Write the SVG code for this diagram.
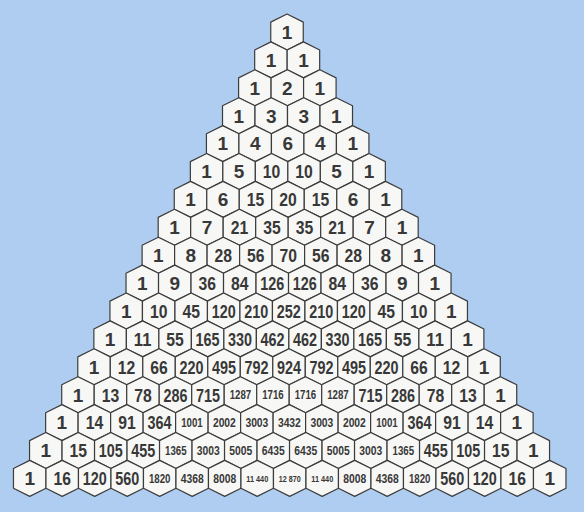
<svg xmlns="http://www.w3.org/2000/svg" xmlns:xlink="http://www.w3.org/1999/xlink" width="584" height="512" viewBox="0 0 584 512">
<style>
.hex{fill:#f7f7f5;stroke:#3c3c3c;stroke-width:1.2;stroke-linejoin:round}
text{font-family:"Liberation Sans",Arial,sans-serif;font-weight:bold;fill:#383838;text-anchor:middle}
.a{font-size:19px}
.s{font-size:12.5px}
.m{font-size:13.5px}
.x{font-size:9px}
</style>
<defs>
<polygon id="hex" class="hex" points="0,-18 16.25,-9.9 16.25,9.9 0,18 -16.25,9.9 -16.25,-9.9"/>
</defs>
<rect width="584" height="512" fill="#afcdf0"/>
<g id="connectors"></g>
<g id="row0" transform="translate(287,32)">
<g id="n0-0"><use href="#hex"/><text class="a" y="6.8">1</text></g>
</g>
<g id="row1" transform="translate(270.92,59.9)">
<g id="n1-0"><use href="#hex"/><text class="a" y="6.8">1</text></g>
<g id="n1-1" transform="translate(32.5,0)"><use href="#hex"/><text class="a" y="6.8">1</text></g>
</g>
<g id="row2" transform="translate(254.84,87.8)">
<g id="n2-0"><use href="#hex"/><text class="a" y="6.8">1</text></g>
<g id="n2-1" transform="translate(32.5,0)"><use href="#hex"/><text class="a" y="6.8">2</text></g>
<g id="n2-2" transform="translate(65,0)"><use href="#hex"/><text class="a" y="6.8">1</text></g>
</g>
<g id="row3" transform="translate(238.76,115.7)">
<g id="n3-0"><use href="#hex"/><text class="a" y="6.8">1</text></g>
<g id="n3-1" transform="translate(32.5,0)"><use href="#hex"/><text class="a" y="6.8">3</text></g>
<g id="n3-2" transform="translate(65,0)"><use href="#hex"/><text class="a" y="6.8">3</text></g>
<g id="n3-3" transform="translate(97.5,0)"><use href="#hex"/><text class="a" y="6.8">1</text></g>
</g>
<g id="row4" transform="translate(222.68,143.6)">
<g id="n4-0"><use href="#hex"/><text class="a" y="6.8">1</text></g>
<g id="n4-1" transform="translate(32.5,0)"><use href="#hex"/><text class="a" y="6.8">4</text></g>
<g id="n4-2" transform="translate(65,0)"><use href="#hex"/><text class="a" y="6.8">6</text></g>
<g id="n4-3" transform="translate(97.5,0)"><use href="#hex"/><text class="a" y="6.8">4</text></g>
<g id="n4-4" transform="translate(130,0)"><use href="#hex"/><text class="a" y="6.8">1</text></g>
</g>
<g id="row5" transform="translate(206.6,171.5)">
<g id="n5-0"><use href="#hex"/><text class="a" y="6.8">1</text></g>
<g id="n5-1" transform="translate(32.5,0)"><use href="#hex"/><text class="a" y="6.8">5</text></g>
<g id="n5-2" transform="translate(65,0)"><use href="#hex"/><text class="a" y="6.8" textLength="17.5" lengthAdjust="spacingAndGlyphs">10</text></g>
<g id="n5-3" transform="translate(97.5,0)"><use href="#hex"/><text class="a" y="6.8" textLength="17.5" lengthAdjust="spacingAndGlyphs">10</text></g>
<g id="n5-4" transform="translate(130,0)"><use href="#hex"/><text class="a" y="6.8">5</text></g>
<g id="n5-5" transform="translate(162.5,0)"><use href="#hex"/><text class="a" y="6.8">1</text></g>
</g>
<g id="row6" transform="translate(190.52,199.4)">
<g id="n6-0"><use href="#hex"/><text class="a" y="6.8">1</text></g>
<g id="n6-1" transform="translate(32.5,0)"><use href="#hex"/><text class="a" y="6.8">6</text></g>
<g id="n6-2" transform="translate(65,0)"><use href="#hex"/><text class="a" y="6.8" textLength="17.5" lengthAdjust="spacingAndGlyphs">15</text></g>
<g id="n6-3" transform="translate(97.5,0)"><use href="#hex"/><text class="a" y="6.8" textLength="17.5" lengthAdjust="spacingAndGlyphs">20</text></g>
<g id="n6-4" transform="translate(130,0)"><use href="#hex"/><text class="a" y="6.8" textLength="17.5" lengthAdjust="spacingAndGlyphs">15</text></g>
<g id="n6-5" transform="translate(162.5,0)"><use href="#hex"/><text class="a" y="6.8">6</text></g>
<g id="n6-6" transform="translate(195,0)"><use href="#hex"/><text class="a" y="6.8">1</text></g>
</g>
<g id="row7" transform="translate(174.44,227.3)">
<g id="n7-0"><use href="#hex"/><text class="a" y="6.8">1</text></g>
<g id="n7-1" transform="translate(32.5,0)"><use href="#hex"/><text class="a" y="6.8">7</text></g>
<g id="n7-2" transform="translate(65,0)"><use href="#hex"/><text class="a" y="6.8" textLength="17.5" lengthAdjust="spacingAndGlyphs">21</text></g>
<g id="n7-3" transform="translate(97.5,0)"><use href="#hex"/><text class="a" y="6.8" textLength="17.5" lengthAdjust="spacingAndGlyphs">35</text></g>
<g id="n7-4" transform="translate(130,0)"><use href="#hex"/><text class="a" y="6.8" textLength="17.5" lengthAdjust="spacingAndGlyphs">35</text></g>
<g id="n7-5" transform="translate(162.5,0)"><use href="#hex"/><text class="a" y="6.8" textLength="17.5" lengthAdjust="spacingAndGlyphs">21</text></g>
<g id="n7-6" transform="translate(195,0)"><use href="#hex"/><text class="a" y="6.8">7</text></g>
<g id="n7-7" transform="translate(227.5,0)"><use href="#hex"/><text class="a" y="6.8">1</text></g>
</g>
<g id="row8" transform="translate(158.36,255.2)">
<g id="n8-0"><use href="#hex"/><text class="a" y="6.8">1</text></g>
<g id="n8-1" transform="translate(32.5,0)"><use href="#hex"/><text class="a" y="6.8">8</text></g>
<g id="n8-2" transform="translate(65,0)"><use href="#hex"/><text class="a" y="6.8" textLength="17.5" lengthAdjust="spacingAndGlyphs">28</text></g>
<g id="n8-3" transform="translate(97.5,0)"><use href="#hex"/><text class="a" y="6.8" textLength="17.5" lengthAdjust="spacingAndGlyphs">56</text></g>
<g id="n8-4" transform="translate(130,0)"><use href="#hex"/><text class="a" y="6.8" textLength="17.5" lengthAdjust="spacingAndGlyphs">70</text></g>
<g id="n8-5" transform="translate(162.5,0)"><use href="#hex"/><text class="a" y="6.8" textLength="17.5" lengthAdjust="spacingAndGlyphs">56</text></g>
<g id="n8-6" transform="translate(195,0)"><use href="#hex"/><text class="a" y="6.8" textLength="17.5" lengthAdjust="spacingAndGlyphs">28</text></g>
<g id="n8-7" transform="translate(227.5,0)"><use href="#hex"/><text class="a" y="6.8">8</text></g>
<g id="n8-8" transform="translate(260,0)"><use href="#hex"/><text class="a" y="6.8">1</text></g>
</g>
<g id="row9" transform="translate(142.28,283.1)">
<g id="n9-0"><use href="#hex"/><text class="a" y="6.8">1</text></g>
<g id="n9-1" transform="translate(32.5,0)"><use href="#hex"/><text class="a" y="6.8">9</text></g>
<g id="n9-2" transform="translate(65,0)"><use href="#hex"/><text class="a" y="6.8" textLength="17.5" lengthAdjust="spacingAndGlyphs">36</text></g>
<g id="n9-3" transform="translate(97.5,0)"><use href="#hex"/><text class="a" y="6.8" textLength="17.5" lengthAdjust="spacingAndGlyphs">84</text></g>
<g id="n9-4" transform="translate(130,0)"><use href="#hex"/><text class="a" y="6.8" textLength="24" lengthAdjust="spacingAndGlyphs">126</text></g>
<g id="n9-5" transform="translate(162.5,0)"><use href="#hex"/><text class="a" y="6.8" textLength="24" lengthAdjust="spacingAndGlyphs">126</text></g>
<g id="n9-6" transform="translate(195,0)"><use href="#hex"/><text class="a" y="6.8" textLength="17.5" lengthAdjust="spacingAndGlyphs">84</text></g>
<g id="n9-7" transform="translate(227.5,0)"><use href="#hex"/><text class="a" y="6.8" textLength="17.5" lengthAdjust="spacingAndGlyphs">36</text></g>
<g id="n9-8" transform="translate(260,0)"><use href="#hex"/><text class="a" y="6.8">9</text></g>
<g id="n9-9" transform="translate(292.5,0)"><use href="#hex"/><text class="a" y="6.8">1</text></g>
</g>
<g id="row10" transform="translate(126.2,311)">
<g id="n10-0"><use href="#hex"/><text class="a" y="6.8">1</text></g>
<g id="n10-1" transform="translate(32.5,0)"><use href="#hex"/><text class="a" y="6.8" textLength="17.5" lengthAdjust="spacingAndGlyphs">10</text></g>
<g id="n10-2" transform="translate(65,0)"><use href="#hex"/><text class="a" y="6.8" textLength="17.5" lengthAdjust="spacingAndGlyphs">45</text></g>
<g id="n10-3" transform="translate(97.5,0)"><use href="#hex"/><text class="a" y="6.8" textLength="24" lengthAdjust="spacingAndGlyphs">120</text></g>
<g id="n10-4" transform="translate(130,0)"><use href="#hex"/><text class="a" y="6.8" textLength="24" lengthAdjust="spacingAndGlyphs">210</text></g>
<g id="n10-5" transform="translate(162.5,0)"><use href="#hex"/><text class="a" y="6.8" textLength="24" lengthAdjust="spacingAndGlyphs">252</text></g>
<g id="n10-6" transform="translate(195,0)"><use href="#hex"/><text class="a" y="6.8" textLength="24" lengthAdjust="spacingAndGlyphs">210</text></g>
<g id="n10-7" transform="translate(227.5,0)"><use href="#hex"/><text class="a" y="6.8" textLength="24" lengthAdjust="spacingAndGlyphs">120</text></g>
<g id="n10-8" transform="translate(260,0)"><use href="#hex"/><text class="a" y="6.8" textLength="17.5" lengthAdjust="spacingAndGlyphs">45</text></g>
<g id="n10-9" transform="translate(292.5,0)"><use href="#hex"/><text class="a" y="6.8" textLength="17.5" lengthAdjust="spacingAndGlyphs">10</text></g>
<g id="n10-10" transform="translate(325,0)"><use href="#hex"/><text class="a" y="6.8">1</text></g>
</g>
<g id="row11" transform="translate(110.12,338.9)">
<g id="n11-0"><use href="#hex"/><text class="a" y="6.8">1</text></g>
<g id="n11-1" transform="translate(32.5,0)"><use href="#hex"/><text class="a" y="6.8" textLength="17.5" lengthAdjust="spacingAndGlyphs">11</text></g>
<g id="n11-2" transform="translate(65,0)"><use href="#hex"/><text class="a" y="6.8" textLength="17.5" lengthAdjust="spacingAndGlyphs">55</text></g>
<g id="n11-3" transform="translate(97.5,0)"><use href="#hex"/><text class="a" y="6.8" textLength="24" lengthAdjust="spacingAndGlyphs">165</text></g>
<g id="n11-4" transform="translate(130,0)"><use href="#hex"/><text class="a" y="6.8" textLength="24" lengthAdjust="spacingAndGlyphs">330</text></g>
<g id="n11-5" transform="translate(162.5,0)"><use href="#hex"/><text class="a" y="6.8" textLength="24" lengthAdjust="spacingAndGlyphs">462</text></g>
<g id="n11-6" transform="translate(195,0)"><use href="#hex"/><text class="a" y="6.8" textLength="24" lengthAdjust="spacingAndGlyphs">462</text></g>
<g id="n11-7" transform="translate(227.5,0)"><use href="#hex"/><text class="a" y="6.8" textLength="24" lengthAdjust="spacingAndGlyphs">330</text></g>
<g id="n11-8" transform="translate(260,0)"><use href="#hex"/><text class="a" y="6.8" textLength="24" lengthAdjust="spacingAndGlyphs">165</text></g>
<g id="n11-9" transform="translate(292.5,0)"><use href="#hex"/><text class="a" y="6.8" textLength="17.5" lengthAdjust="spacingAndGlyphs">55</text></g>
<g id="n11-10" transform="translate(325,0)"><use href="#hex"/><text class="a" y="6.8" textLength="17.5" lengthAdjust="spacingAndGlyphs">11</text></g>
<g id="n11-11" transform="translate(357.5,0)"><use href="#hex"/><text class="a" y="6.8">1</text></g>
</g>
<g id="row12" transform="translate(94.04,366.8)">
<g id="n12-0"><use href="#hex"/><text class="a" y="6.8">1</text></g>
<g id="n12-1" transform="translate(32.5,0)"><use href="#hex"/><text class="a" y="6.8" textLength="17.5" lengthAdjust="spacingAndGlyphs">12</text></g>
<g id="n12-2" transform="translate(65,0)"><use href="#hex"/><text class="a" y="6.8" textLength="17.5" lengthAdjust="spacingAndGlyphs">66</text></g>
<g id="n12-3" transform="translate(97.5,0)"><use href="#hex"/><text class="a" y="6.8" textLength="24" lengthAdjust="spacingAndGlyphs">220</text></g>
<g id="n12-4" transform="translate(130,0)"><use href="#hex"/><text class="a" y="6.8" textLength="24" lengthAdjust="spacingAndGlyphs">495</text></g>
<g id="n12-5" transform="translate(162.5,0)"><use href="#hex"/><text class="a" y="6.8" textLength="24" lengthAdjust="spacingAndGlyphs">792</text></g>
<g id="n12-6" transform="translate(195,0)"><use href="#hex"/><text class="a" y="6.8" textLength="24" lengthAdjust="spacingAndGlyphs">924</text></g>
<g id="n12-7" transform="translate(227.5,0)"><use href="#hex"/><text class="a" y="6.8" textLength="24" lengthAdjust="spacingAndGlyphs">792</text></g>
<g id="n12-8" transform="translate(260,0)"><use href="#hex"/><text class="a" y="6.8" textLength="24" lengthAdjust="spacingAndGlyphs">495</text></g>
<g id="n12-9" transform="translate(292.5,0)"><use href="#hex"/><text class="a" y="6.8" textLength="24" lengthAdjust="spacingAndGlyphs">220</text></g>
<g id="n12-10" transform="translate(325,0)"><use href="#hex"/><text class="a" y="6.8" textLength="17.5" lengthAdjust="spacingAndGlyphs">66</text></g>
<g id="n12-11" transform="translate(357.5,0)"><use href="#hex"/><text class="a" y="6.8" textLength="17.5" lengthAdjust="spacingAndGlyphs">12</text></g>
<g id="n12-12" transform="translate(390,0)"><use href="#hex"/><text class="a" y="6.8">1</text></g>
</g>
<g id="row13" transform="translate(77.96,394.7)">
<g id="n13-0"><use href="#hex"/><text class="a" y="6.8">1</text></g>
<g id="n13-1" transform="translate(32.5,0)"><use href="#hex"/><text class="a" y="6.8" textLength="17.5" lengthAdjust="spacingAndGlyphs">13</text></g>
<g id="n13-2" transform="translate(65,0)"><use href="#hex"/><text class="a" y="6.8" textLength="17.5" lengthAdjust="spacingAndGlyphs">78</text></g>
<g id="n13-3" transform="translate(97.5,0)"><use href="#hex"/><text class="a" y="6.8" textLength="24" lengthAdjust="spacingAndGlyphs">286</text></g>
<g id="n13-4" transform="translate(130,0)"><use href="#hex"/><text class="a" y="6.8" textLength="24" lengthAdjust="spacingAndGlyphs">715</text></g>
<g id="n13-5" transform="translate(162.5,0)"><use href="#hex"/><text class="s" y="4.5" textLength="21.5" lengthAdjust="spacingAndGlyphs">1287</text></g>
<g id="n13-6" transform="translate(195,0)"><use href="#hex"/><text class="s" y="4.5" textLength="21.5" lengthAdjust="spacingAndGlyphs">1716</text></g>
<g id="n13-7" transform="translate(227.5,0)"><use href="#hex"/><text class="s" y="4.5" textLength="21.5" lengthAdjust="spacingAndGlyphs">1716</text></g>
<g id="n13-8" transform="translate(260,0)"><use href="#hex"/><text class="s" y="4.5" textLength="21.5" lengthAdjust="spacingAndGlyphs">1287</text></g>
<g id="n13-9" transform="translate(292.5,0)"><use href="#hex"/><text class="a" y="6.8" textLength="24" lengthAdjust="spacingAndGlyphs">715</text></g>
<g id="n13-10" transform="translate(325,0)"><use href="#hex"/><text class="a" y="6.8" textLength="24" lengthAdjust="spacingAndGlyphs">286</text></g>
<g id="n13-11" transform="translate(357.5,0)"><use href="#hex"/><text class="a" y="6.8" textLength="17.5" lengthAdjust="spacingAndGlyphs">78</text></g>
<g id="n13-12" transform="translate(390,0)"><use href="#hex"/><text class="a" y="6.8" textLength="17.5" lengthAdjust="spacingAndGlyphs">13</text></g>
<g id="n13-13" transform="translate(422.5,0)"><use href="#hex"/><text class="a" y="6.8">1</text></g>
</g>
<g id="row14" transform="translate(61.88,422.6)">
<g id="n14-0"><use href="#hex"/><text class="a" y="6.8">1</text></g>
<g id="n14-1" transform="translate(32.5,0)"><use href="#hex"/><text class="a" y="6.8" textLength="17.5" lengthAdjust="spacingAndGlyphs">14</text></g>
<g id="n14-2" transform="translate(65,0)"><use href="#hex"/><text class="a" y="6.8" textLength="17.5" lengthAdjust="spacingAndGlyphs">91</text></g>
<g id="n14-3" transform="translate(97.5,0)"><use href="#hex"/><text class="a" y="6.8" textLength="24" lengthAdjust="spacingAndGlyphs">364</text></g>
<g id="n14-4" transform="translate(130,0)"><use href="#hex"/><text class="s" y="4.5" textLength="21.5" lengthAdjust="spacingAndGlyphs">1001</text></g>
<g id="n14-5" transform="translate(162.5,0)"><use href="#hex"/><text class="m" y="4.8" textLength="23" lengthAdjust="spacingAndGlyphs">2002</text></g>
<g id="n14-6" transform="translate(195,0)"><use href="#hex"/><text class="m" y="4.8" textLength="23" lengthAdjust="spacingAndGlyphs">3003</text></g>
<g id="n14-7" transform="translate(227.5,0)"><use href="#hex"/><text class="m" y="4.8" textLength="23" lengthAdjust="spacingAndGlyphs">3432</text></g>
<g id="n14-8" transform="translate(260,0)"><use href="#hex"/><text class="m" y="4.8" textLength="23" lengthAdjust="spacingAndGlyphs">3003</text></g>
<g id="n14-9" transform="translate(292.5,0)"><use href="#hex"/><text class="m" y="4.8" textLength="23" lengthAdjust="spacingAndGlyphs">2002</text></g>
<g id="n14-10" transform="translate(325,0)"><use href="#hex"/><text class="s" y="4.5" textLength="21.5" lengthAdjust="spacingAndGlyphs">1001</text></g>
<g id="n14-11" transform="translate(357.5,0)"><use href="#hex"/><text class="a" y="6.8" textLength="24" lengthAdjust="spacingAndGlyphs">364</text></g>
<g id="n14-12" transform="translate(390,0)"><use href="#hex"/><text class="a" y="6.8" textLength="17.5" lengthAdjust="spacingAndGlyphs">91</text></g>
<g id="n14-13" transform="translate(422.5,0)"><use href="#hex"/><text class="a" y="6.8" textLength="17.5" lengthAdjust="spacingAndGlyphs">14</text></g>
<g id="n14-14" transform="translate(455,0)"><use href="#hex"/><text class="a" y="6.8">1</text></g>
</g>
<g id="row15" transform="translate(45.8,450.5)">
<g id="n15-0"><use href="#hex"/><text class="a" y="6.8">1</text></g>
<g id="n15-1" transform="translate(32.5,0)"><use href="#hex"/><text class="a" y="6.8" textLength="17.5" lengthAdjust="spacingAndGlyphs">15</text></g>
<g id="n15-2" transform="translate(65,0)"><use href="#hex"/><text class="a" y="6.8" textLength="24" lengthAdjust="spacingAndGlyphs">105</text></g>
<g id="n15-3" transform="translate(97.5,0)"><use href="#hex"/><text class="a" y="6.8" textLength="24" lengthAdjust="spacingAndGlyphs">455</text></g>
<g id="n15-4" transform="translate(130,0)"><use href="#hex"/><text class="s" y="4.5" textLength="21.5" lengthAdjust="spacingAndGlyphs">1365</text></g>
<g id="n15-5" transform="translate(162.5,0)"><use href="#hex"/><text class="m" y="4.8" textLength="23" lengthAdjust="spacingAndGlyphs">3003</text></g>
<g id="n15-6" transform="translate(195,0)"><use href="#hex"/><text class="m" y="4.8" textLength="23" lengthAdjust="spacingAndGlyphs">5005</text></g>
<g id="n15-7" transform="translate(227.5,0)"><use href="#hex"/><text class="m" y="4.8" textLength="23" lengthAdjust="spacingAndGlyphs">6435</text></g>
<g id="n15-8" transform="translate(260,0)"><use href="#hex"/><text class="m" y="4.8" textLength="23" lengthAdjust="spacingAndGlyphs">6435</text></g>
<g id="n15-9" transform="translate(292.5,0)"><use href="#hex"/><text class="m" y="4.8" textLength="23" lengthAdjust="spacingAndGlyphs">5005</text></g>
<g id="n15-10" transform="translate(325,0)"><use href="#hex"/><text class="m" y="4.8" textLength="23" lengthAdjust="spacingAndGlyphs">3003</text></g>
<g id="n15-11" transform="translate(357.5,0)"><use href="#hex"/><text class="s" y="4.5" textLength="21.5" lengthAdjust="spacingAndGlyphs">1365</text></g>
<g id="n15-12" transform="translate(390,0)"><use href="#hex"/><text class="a" y="6.8" textLength="24" lengthAdjust="spacingAndGlyphs">455</text></g>
<g id="n15-13" transform="translate(422.5,0)"><use href="#hex"/><text class="a" y="6.8" textLength="24" lengthAdjust="spacingAndGlyphs">105</text></g>
<g id="n15-14" transform="translate(455,0)"><use href="#hex"/><text class="a" y="6.8" textLength="17.5" lengthAdjust="spacingAndGlyphs">15</text></g>
<g id="n15-15" transform="translate(487.5,0)"><use href="#hex"/><text class="a" y="6.8">1</text></g>
</g>
<g id="row16" transform="translate(29.72,478.4)">
<g id="n16-0"><use href="#hex"/><text class="a" y="6.8">1</text></g>
<g id="n16-1" transform="translate(32.5,0)"><use href="#hex"/><text class="a" y="6.8" textLength="17.5" lengthAdjust="spacingAndGlyphs">16</text></g>
<g id="n16-2" transform="translate(65,0)"><use href="#hex"/><text class="a" y="6.8" textLength="24" lengthAdjust="spacingAndGlyphs">120</text></g>
<g id="n16-3" transform="translate(97.5,0)"><use href="#hex"/><text class="a" y="6.8" textLength="24" lengthAdjust="spacingAndGlyphs">560</text></g>
<g id="n16-4" transform="translate(130,0)"><use href="#hex"/><text class="s" y="4.5" textLength="21.5" lengthAdjust="spacingAndGlyphs">1820</text></g>
<g id="n16-5" transform="translate(162.5,0)"><use href="#hex"/><text class="m" y="4.8" textLength="23" lengthAdjust="spacingAndGlyphs">4368</text></g>
<g id="n16-6" transform="translate(195,0)"><use href="#hex"/><text class="m" y="4.8" textLength="23" lengthAdjust="spacingAndGlyphs">8008</text></g>
<g id="n16-7" transform="translate(227.5,0)"><use href="#hex"/><text class="x" y="3.2" textLength="22" lengthAdjust="spacingAndGlyphs">11 440</text></g>
<g id="n16-8" transform="translate(260,0)"><use href="#hex"/><text class="x" y="3.2" textLength="22" lengthAdjust="spacingAndGlyphs">12 870</text></g>
<g id="n16-9" transform="translate(292.5,0)"><use href="#hex"/><text class="x" y="3.2" textLength="22" lengthAdjust="spacingAndGlyphs">11 440</text></g>
<g id="n16-10" transform="translate(325,0)"><use href="#hex"/><text class="m" y="4.8" textLength="23" lengthAdjust="spacingAndGlyphs">8008</text></g>
<g id="n16-11" transform="translate(357.5,0)"><use href="#hex"/><text class="m" y="4.8" textLength="23" lengthAdjust="spacingAndGlyphs">4368</text></g>
<g id="n16-12" transform="translate(390,0)"><use href="#hex"/><text class="s" y="4.5" textLength="21.5" lengthAdjust="spacingAndGlyphs">1820</text></g>
<g id="n16-13" transform="translate(422.5,0)"><use href="#hex"/><text class="a" y="6.8" textLength="24" lengthAdjust="spacingAndGlyphs">560</text></g>
<g id="n16-14" transform="translate(455,0)"><use href="#hex"/><text class="a" y="6.8" textLength="24" lengthAdjust="spacingAndGlyphs">120</text></g>
<g id="n16-15" transform="translate(487.5,0)"><use href="#hex"/><text class="a" y="6.8" textLength="17.5" lengthAdjust="spacingAndGlyphs">16</text></g>
<g id="n16-16" transform="translate(520,0)"><use href="#hex"/><text class="a" y="6.8">1</text></g>
</g>
</svg>
